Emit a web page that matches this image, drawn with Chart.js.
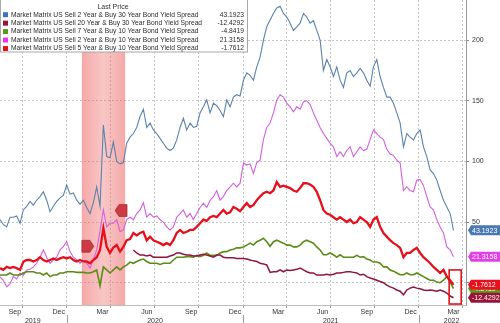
<!DOCTYPE html>
<html lang="en">
<head>
    <meta charset="UTF-8">
    <title>Market Matrix US Bond Yield Spreads</title>
    <style>
        body {
            margin: 0;
            background: #ffffff;
        }
        .chart-box {
            position: relative;
            width: 500px;
            height: 323px;
        }
    </style>
</head>
<body>
    <div class="chart-box">
        <canvas id="spreadChart" width="500" height="323"></canvas>
    </div>

    <script src="https://cdn.jsdelivr.net/npm/chart.js@4.4.3/dist/chart.umd.min.js"></script>
    <script>
        // days counted from 1 Aug 2019
        function day(y, m, d) {
            return (Date.UTC(y, m - 1, d) - Date.UTC(2019, 7, 1)) / 86400000;
        }

        // samples run evenly from mid Aug 2019 to 14 Mar 2022
        const firstDay = day(2019, 8, 15);
        const lastDay = day(2022, 3, 14);

        const seriesNames = [
            'Market Matrix US Sell 2 Year & Buy 30 Year Bond Yield Spread',
            'Market Matrix US Sell 20 Year & Buy 30 Year Bond Yield Spread',
            'Market Matrix US Sell 7 Year & Buy 10 Year Bond Yield Spread',
            'Market Matrix US Sell 2 Year & Buy 10 Year Bond Yield Spread',
            'Market Matrix US Sell 5 Year & Buy 10 Year Bond Yield Spread'
        ];
        const lastPrices = [43.1923, -12.4292, -4.8419, 21.3158, -1.7612];
        const lineColors = ['#5b83ab', '#8e1638', '#5b8c16', '#d35fdf', '#e5101c'];
        const boxColors = ['#4a78b0', '#9a1438', '#5e9a1a', '#e33fe6', '#e8101c'];
        const swatchColors = ['#3f73b3', '#9a1438', '#5a9a14', '#f030f0', '#e8101c'];

        const s2s30s = [
            52, 48, 46, 54, 54, 55, 49, 60, 63, 67, 64, 68, 71, 75, 68, 58.5, 63, 67, 70, 72,
            80.6, 73, 74, 68, 64.6, 68, 62, 57, 66, 79, 63, 130, 104, 103, 116, 100,
            98, 99, 115, 120, 123, 128, 137, 143, 128, 131.6, 126, 123, 119, 115, 111, 109, 111, 117.7,
            128, 135.6, 126, 131.6, 128, 129, 140, 145, 150.7, 140, 148, 146, 142, 137, 150.7, 145, 153, 155,
            154, 167, 173, 171, 167, 178, 186, 200, 211, 216.6, 222, 226.5, 228, 222, 219, 214, 208, 211,
            214, 222, 219, 214, 216, 208, 200, 175, 184, 178, 170, 178, 167, 161, 173,
            175, 170, 173, 176.6, 173, 167, 162, 178, 184, 170, 161, 153, 153, 148, 140, 131.6, 112, 123,
            120, 117.7, 123, 126, 112, 104, 93, 90, 84.6, 76, 68, 62.4, 57, 43.2
        ];
        const s20s30sStart = 40; // series begins in May 2020
        const s20s30s = [
            27, 24.5, 22.8, 22.8, 22, 22.8, 21, 21, 21, 21, 21, 22, 22.8, 24.5, 24.5, 23.5, 22.8, 22.8,
            22, 22, 22.8, 23.5, 22.8, 22, 21, 22.8, 22.8, 21, 20.5, 20.5, 20.5, 20,
            20, 20, 19.5, 18.7, 18, 17.5, 16, 15.5, 14.6, 8.5, 9, 9, 10.5, 9, 10.5, 10, 10.5, 11, 12,
            10.5, 9, 8, 8, 6.3, 6.3, 6.3, 7, 6.3, 7, 8, 8, 8.5, 9,
            9, 8.5, 8, 6.3, 7, 5, 3.8, 3, 2, 1, 0, -2, -3.5, -4.5, -6, -7, -10, -6, -4.5, -3.5,
            -4.5, -5, -6, -6.5, -6, -6.5, -7, -6, -7, -8.5, -11, -12.43
        ];
        const s7s10s = [
            6.3, 6.3, 6.3, 8, 6.3, 6.3, 6.3, 8, 9, 9, 9, 8, 8, 6.3, 8, 5, 6.3, 6.3, 8, 8,
            9, 9, 9, 8.5, 8.5, 8.5, 8, 8, 9, 10.5, -2.5, 13, 10.5, 8, 10.5, 13,
            10.5, 13, 14.5, 17, 16, 17.5, 18.7, 19.5, 17.5, 16, 16, 16, 15, 16, 16, 16, 18.7, 21,
            21, 21, 21.5, 21.5, 21, 22.5, 21.5, 22.5, 24.5, 22.5, 22.5, 22.5, 24.5, 25.6, 25.6, 27, 27.5, 28.7,
            28.7, 29.5, 31, 32.6, 31, 33.8, 35, 36.6, 33.8, 30, 33.8, 35, 33.8, 32.6, 31, 31, 29.5, 29.5,
            31, 33.8, 35, 33.8, 32.6, 29.5, 27, 23, 23, 24.5, 23, 21, 23, 21, 21,
            21, 21, 22.5, 21, 21.5, 19.5, 18.7, 17, 17, 16, 13, 13, 10.5, 9.5, 8, 6.5, 6.5, 8,
            6.5, 6.5, 8, 6.5, 5, 3.5, 2, 2, 0.5, 0, 2, 5, 0.5, -4.84
        ];
        const s2s10s = [
            4.7, 2, -3.5, -1, 5, 3, 8, 6, 10.5, 11, 13, 16, 21, 27, 21, 16, 18.7, 21, 27, 29.7,
            33.8, 25.6, 21, 19, 16, 18, 16, 12, 18.7, 27, 43, 60, 46, 49, 49, 52,
            42, 43.5, 52, 54, 52, 57, 60, 66, 54, 57, 54, 55, 52, 50, 46, 43.5, 46, 54,
            57, 60, 54, 57, 52, 57, 62, 65.6, 62, 68, 70.9, 76, 68, 71, 76, 79, 82, 79,
            82, 98.7, 97, 98, 90, 99, 101, 118, 128, 131.6, 140, 150.7, 155, 153, 148, 145, 141, 145,
            143, 149, 150, 147, 140, 134, 128, 123, 119, 115, 112, 104, 108, 104, 109,
            112, 104, 108, 112, 109, 110, 118, 126, 123, 120, 118, 110, 106, 105, 101, 98.7, 76, 79,
            76, 75, 84.6, 85, 80, 71, 62.4, 60, 52, 46, 41, 29.5, 27, 21.3
        ];
        const s5s10s = [
            12, 10.5, 13, 12, 13, 12, 10.5, 17.3, 18.7, 18.7, 17.5, 18.7, 21, 18.7, 17.5, 18.7, 20, 18.7, 20, 21,
            20, 21, 18.7, 17.5, 18.7, 17.5, 17.5, 16, 18.7, 21, 27, 45, 29.7, 24.5, 29, 31,
            25.6, 29.5, 35, 36, 41, 39, 41, 42, 35, 38, 35, 33.8, 32.6, 31, 32.6, 31, 35, 41,
            43.5, 41, 42, 43.5, 43.5, 46, 49, 52, 51, 54, 55, 54, 57, 60, 57, 58, 62.4, 61,
            59, 62.4, 65.6, 62.4, 64, 68, 71, 73.8, 75, 73.8, 76, 83, 79, 80, 79, 78, 76, 75,
            78, 82, 82, 81, 79, 75, 68, 60, 57, 56, 54, 52, 54, 52, 50,
            52, 49, 50, 54, 52, 50, 46, 52, 54, 46, 41, 38, 35, 32.6, 31, 28.7, 21, 24.5,
            24.5, 27, 28.7, 24.5, 21, 18.7, 16, 13, 10.5, 8, 10.5, 5, 2, -1.76
        ];

        const monthLabels = ['Sep', 'Dec', 'Mar', 'Jun', 'Sep', 'Dec', 'Mar', 'Jun', 'Sep', 'Dec', 'Mar'];
        const monthDays = [
            day(2019, 9, 15), day(2019, 12, 15), day(2020, 3, 15), day(2020, 6, 15),
            day(2020, 9, 15), day(2020, 12, 15), day(2021, 3, 15), day(2021, 6, 15),
            day(2021, 9, 15), day(2021, 12, 15), day(2022, 3, 14)
        ];
        const yearLabels = ['2019', '2020', '2021', '2022'];
        const yearDays = [day(2019, 10, 22), day(2020, 7, 2), day(2021, 7, 2), day(2022, 3, 10)];
        const quarterDays = [
            day(2019, 10, 1), day(2020, 1, 1), day(2020, 4, 1), day(2020, 7, 1), day(2020, 10, 1),
            day(2021, 1, 1), day(2021, 4, 1), day(2021, 7, 1), day(2021, 10, 1), day(2022, 1, 1), day(2022, 4, 1)
        ];
        const yearStarts = [day(2020, 1, 1), day(2021, 1, 1), day(2022, 1, 1)];
        const yTicks = [0, 50, 100, 150, 200];

        // shaded period, event flags and the highlight box
        const shadeFrom = day(2020, 2, 1);
        const shadeTo = day(2020, 5, 1);
        const flags = [
            { d: day(2020, 2, 1), v: 30, dir: 1 },
            { d: day(2020, 4, 10), v: 59.5, dir: -1 }
        ];
        const highlight = { from: day(2022, 3, 5), to: day(2022, 3, 30), top: 10.5, bottom: -17.6 };

        const FONT = '"Liberation Sans", Arial, sans-serif';

        const step = (lastDay - firstDay) / (s2s30s.length - 1);
        function toPoints(values, offset) {
            return values.map((v, i) => ({ x: firstDay + (i + offset) * step, y: v }));
        }

        const seriesData = [
            toPoints(s2s30s, 0),
            toPoints(s20s30s, s20s30sStart),
            toPoints(s7s10s, 0),
            toPoints(s2s10s, 0),
            toPoints(s5s10s, 0)
        ];
        const lineWidths = [1.1, 1.5, 1.6, 1.1, 2.3];
        const drawOrder = [3, 2, 2, 4, 1];

        const shadePlugin = {
            id: 'shade',
            beforeDatasetsDraw(chart) {
                const ctx = chart.ctx;
                const x = chart.scales.x;
                const area = chart.chartArea;
                const x1 = x.getPixelForValue(shadeFrom);
                const x2 = x.getPixelForValue(shadeTo);
                ctx.save();
                const g = ctx.createLinearGradient(x1, 0, x2, 0);
                g.addColorStop(0, 'rgba(236, 96, 96, 0.55)');
                g.addColorStop(0.5, 'rgba(240, 120, 120, 0.42)');
                g.addColorStop(1, 'rgba(236, 96, 96, 0.55)');
                ctx.fillStyle = g;
                ctx.fillRect(x1, area.top, x2 - x1, area.bottom - area.top);
                ctx.restore();
            }
        };

        const marksPlugin = {
            id: 'marks',
            afterDatasetsDraw(chart) {
                const ctx = chart.ctx;
                const xs = chart.scales.x;
                const ys = chart.scales.y;
                ctx.save();
                flags.forEach(f => {
                    const px = xs.getPixelForValue(f.d);
                    const py = ys.getPixelForValue(f.v);
                    ctx.fillStyle = '#cc3a44';
                    ctx.strokeStyle = '#9a2028';
                    ctx.lineWidth = 0.6;
                    ctx.beginPath();
                    if (f.dir > 0) {
                        ctx.moveTo(px, py - 6);
                        ctx.lineTo(px + 8, py - 6);
                        ctx.lineTo(px + 12, py);
                        ctx.lineTo(px + 8, py + 6);
                        ctx.lineTo(px, py + 6);
                    } else {
                        ctx.moveTo(px, py);
                        ctx.lineTo(px + 4, py - 6);
                        ctx.lineTo(px + 12, py - 6);
                        ctx.lineTo(px + 12, py + 6);
                        ctx.lineTo(px + 4, py + 6);
                    }
                    ctx.closePath();
                    ctx.fill();
                    ctx.stroke();
                });
                const hx1 = xs.getPixelForValue(highlight.from);
                const hx2 = xs.getPixelForValue(highlight.to);
                const hy1 = ys.getPixelForValue(highlight.top);
                const hy2 = ys.getPixelForValue(highlight.bottom);
                ctx.strokeStyle = '#e2121c';
                ctx.lineWidth = 1.6;
                ctx.strokeRect(hx1, hy1, hx2 - hx1, hy2 - hy1);
                ctx.restore();
            }
        };

        const labelsPlugin = {
            id: 'labels',
            afterDraw(chart) {
                const ctx = chart.ctx;
                const ys = chart.scales.y;
                const xs = chart.scales.x;
                const area = chart.chartArea;
                ctx.save();

                // year separators under the axis
                ctx.strokeStyle = '#9a9a9a';
                ctx.lineWidth = 1;
                yearStarts.forEach(d => {
                    const px = Math.round(xs.getPixelForValue(d)) + 0.5;
                    ctx.beginPath();
                    ctx.moveTo(px, area.bottom + 10);
                    ctx.lineTo(px, chart.height);
                    ctx.stroke();
                });

                // last price boxes on the right
                ctx.font = '7px ' + FONT;
                ctx.textBaseline = 'middle';
                ctx.textAlign = 'left';
                [0, 3, 2, 4, 1].forEach(k => {
                    const py = ys.getPixelForValue(lastPrices[k]);
                    const x0 = area.right + 2;
                    ctx.fillStyle = boxColors[k];
                    ctx.beginPath();
                    ctx.moveTo(x0, py);
                    ctx.lineTo(x0 + 3, py - 5);
                    ctx.lineTo(chart.width, py - 5);
                    ctx.lineTo(chart.width, py + 5);
                    ctx.lineTo(x0 + 3, py + 5);
                    ctx.closePath();
                    ctx.fill();
                    ctx.fillStyle = '#ffffff';
                    ctx.fillText(lastPrices[k].toFixed(4), x0 + 4, py + 0.5);
                });

                // legend box
                ctx.fillStyle = '#ffffff';
                ctx.fillRect(0, 0, 248, 52);
                ctx.strokeStyle = '#a8a8a8';
                ctx.lineWidth = 1;
                ctx.strokeRect(0.5, -1, 247, 53);
                ctx.fillStyle = '#333333';
                ctx.textAlign = 'center';
                ctx.font = '7px ' + FONT;
                ctx.fillText('Last Price', 113, 7);
                ctx.font = '6.7px ' + FONT;
                seriesNames.forEach((name, k) => {
                    const py = 14.7 + k * 8.45;
                    ctx.fillStyle = swatchColors[k];
                    ctx.fillRect(3, py - 2.5, 5, 5);
                    ctx.fillStyle = '#2a2a2a';
                    ctx.textAlign = 'left';
                    ctx.fillText(name, 11, py);
                    ctx.textAlign = 'right';
                    ctx.fillText(lastPrices[k].toFixed(4), 244, py);
                });
                ctx.restore();
            }
        };

        function zeroPadding(scale) {
            scale.paddingTop = 0;
            scale.paddingBottom = 0;
            scale.paddingLeft = 0;
            scale.paddingRight = 0;
        }

        const ctx = document.getElementById('spreadChart').getContext('2d');
        new Chart(ctx, {
            type: 'line',
            data: {
                datasets: seriesNames.map((name, k) => ({
                    label: name,
                    data: seriesData[k],
                    borderColor: lineColors[k],
                    borderWidth: lineWidths[k],
                    pointRadius: 0,
                    tension: 0,
                    fill: false,
                    order: drawOrder[k]
                }))
            },
            options: {
                responsive: false,
                animation: false,
                events: [],
                devicePixelRatio: 1,
                layout: { padding: 0 },
                plugins: {
                    legend: { display: false },
                    tooltip: { enabled: false }
                },
                scales: {
                    x: {
                        type: 'linear',
                        position: 'bottom',
                        weight: 0,
                        min: firstDay,
                        max: day(2022, 4, 9),
                        afterBuildTicks: s => { s.ticks = quarterDays.map(v => ({ value: v })); },
                        afterFit: s => { s.height = 3; zeroPadding(s); },
                        ticks: { display: false },
                        grid: {
                            color: '#c4c4c4',
                            drawTicks: true,
                            tickLength: 3,
                            tickColor: '#9a9a9a'
                        },
                        border: { display: true, color: '#bdbdbd', dash: [2, 2] }
                    },
                    xm: {
                        type: 'linear',
                        position: 'bottom',
                        weight: 1,
                        min: firstDay,
                        max: day(2022, 4, 9),
                        afterBuildTicks: s => { s.ticks = monthDays.map(v => ({ value: v })); },
                        afterFit: s => { s.height = 9; zeroPadding(s); },
                        ticks: {
                            autoSkip: false,
                            maxRotation: 0,
                            padding: 0,
                            color: '#333333',
                            font: { family: FONT, size: 7 },
                            callback: (v, i) => monthLabels[i]
                        },
                        grid: { display: false, drawTicks: false },
                        border: { display: false }
                    },
                    xy: {
                        type: 'linear',
                        position: 'bottom',
                        weight: 2,
                        min: firstDay,
                        max: day(2022, 4, 9),
                        afterBuildTicks: s => { s.ticks = yearDays.map(v => ({ value: v })); },
                        afterFit: s => { s.height = 6; zeroPadding(s); },
                        ticks: {
                            autoSkip: false,
                            maxRotation: 0,
                            padding: 0,
                            color: '#333333',
                            font: { family: FONT, size: 7 },
                            callback: (v, i) => yearLabels[i]
                        },
                        grid: { display: false, drawTicks: false },
                        border: { display: false }
                    },
                    y: {
                        position: 'right',
                        min: -18.4,
                        max: 233.1,
                        afterBuildTicks: s => { s.ticks = yTicks.map(v => ({ value: v })); },
                        afterFit: s => { s.width = 34; zeroPadding(s); },
                        ticks: {
                            padding: 3,
                            color: '#333333',
                            font: { family: FONT, size: 7 }
                        },
                        grid: {
                            color: '#c4c4c4',
                            drawTicks: true,
                            tickLength: 3,
                            tickColor: '#8a8a8a'
                        },
                        border: { display: true, color: '#9a9a9a', dash: [2, 2] }
                    }
                }
            },
            plugins: [shadePlugin, marksPlugin, labelsPlugin]
        });
    </script>
</body>
</html>
